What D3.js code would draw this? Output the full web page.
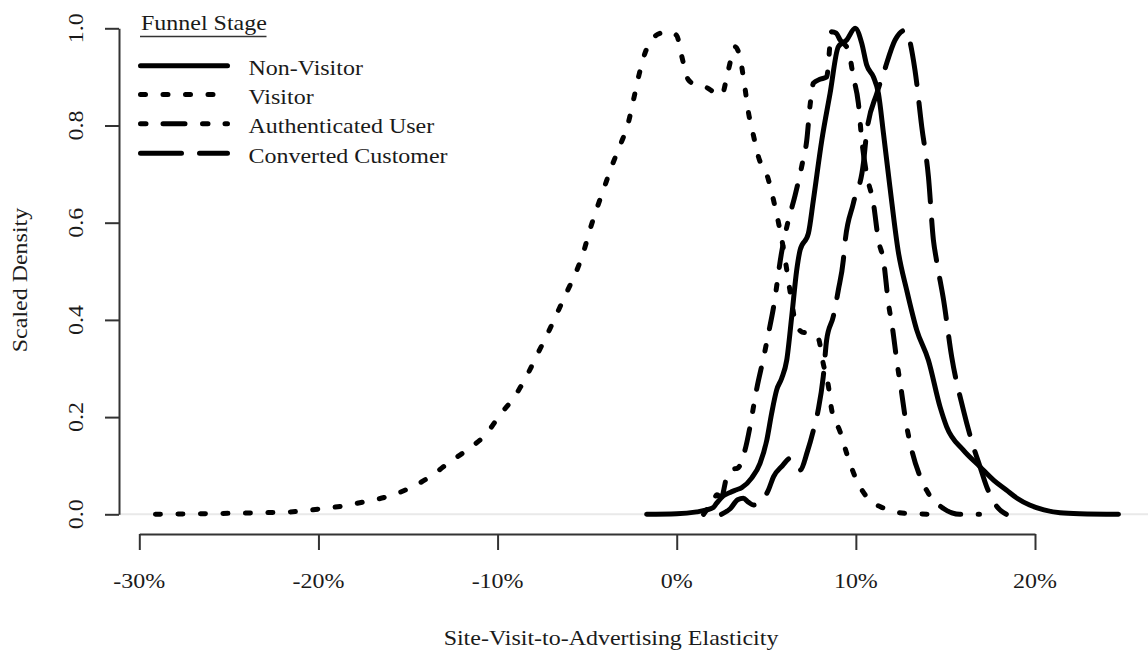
<!DOCTYPE html>
<html>
<head>
<meta charset="utf-8">
<script src="https://cdn.jsdelivr.net/npm/d3@7"></script>
<style>
  html, body { margin: 0; padding: 0; background: #ffffff; }
  svg { display: block; }
  text { font-family: "Liberation Serif", "Times New Roman", serif; fill: #1a1a1a; }
</style>
</head>
<body>
<svg id="chart" width="1148" height="651"></svg>
<script>
// ---------------- data ----------------
const seriesNames = ["Non-Visitor", "Visitor", "Authenticated User", "Converted Customer"];
const legendTitle = "Funnel Stage";
const xTicks = [-30, -20, -10, 0, 10, 20];
const yTicks = [0, 0.2, 0.4, 0.6, 0.8, 1.0];
const xTitle = "Site-Visit-to-Advertising Elasticity";
const yTitle = "Scaled Density";

const nonVisitorX = [-1.68, 0, 1.12, 1.67, 2.04, 2.23, 2.6, 2.98, 3.3, 3.63, 4.19, 4.65, 5.03, 5.3, 5.58, 5.86, 6.14, 6.42, 6.7, 6.89, 7.35, 7.63, 8.1, 8.56, 9.02, 9.49, 9.96, 10.33, 10.6, 10.98, 11.26, 11.54, 11.9, 12.37, 12.84, 13.4, 14.05, 14.7, 15.07, 16.0, 16.93, 17.7, 18.4, 19.0, 19.7, 20.5, 21.4, 22.5, 24.66];
const nonVisitorY = [0, 0.001, 0.005, 0.009, 0.014, 0.023, 0.038, 0.045, 0.05, 0.055, 0.075, 0.105, 0.153, 0.208, 0.256, 0.28, 0.317, 0.407, 0.503, 0.544, 0.578, 0.647, 0.77, 0.866, 0.962, 0.976, 1.0, 0.969, 0.925, 0.9, 0.866, 0.784, 0.674, 0.54, 0.461, 0.379, 0.317, 0.221, 0.18, 0.132, 0.098, 0.07, 0.05, 0.033, 0.019, 0.009, 0.003, 0.001, 0];

const visitorX = [-29.1, -27, -25, -23.4, -21.1, -19.95, -18.66, -17.4, -16.1, -14.9, -13.7, -12.7, -11.6, -10.6, -9.9, -9.0, -8.3, -7.7, -7.1, -6.6, -6.1, -5.6, -5.2, -4.85, -4.45, -4.05, -3.65, -3.15, -2.7, -2.4, -2.1, -1.76, -1.34, -0.9, -0.4, 0.0, 0.27, 0.65, 1.0, 1.67, 2.2, 2.5, 2.88, 3.26, 3.5, 3.81, 4.0, 4.28, 4.56, 5.1, 5.4, 5.67, 5.95, 6.33, 6.6, 7.0, 7.5, 7.9, 8.18, 8.47, 8.65, 9.12, 9.49, 9.96, 10.6, 11.6, 12.8, 14.4];
const visitorY = [0, 0.001, 0.002, 0.003, 0.006, 0.011, 0.017, 0.026, 0.037, 0.054, 0.079, 0.107, 0.135, 0.167, 0.203, 0.245, 0.29, 0.335, 0.38, 0.42, 0.46, 0.5, 0.54, 0.585, 0.63, 0.672, 0.714, 0.76, 0.806, 0.855, 0.905, 0.95, 0.979, 0.99, 0.993, 0.985, 0.944, 0.894, 0.885, 0.878, 0.866, 0.862, 0.914, 0.962, 0.945, 0.877, 0.828, 0.78, 0.736, 0.691, 0.647, 0.602, 0.548, 0.458, 0.4, 0.375, 0.372, 0.362, 0.31, 0.263, 0.215, 0.17, 0.125, 0.077, 0.036, 0.012, 0.002, 0];

const authX = [1.5, 1.67, 2.0, 2.23, 2.5, 2.79, 3.14, 3.4, 3.81, 4.09, 4.28, 4.47, 4.84, 5.12, 5.4, 5.86, 6.2, 6.6, 7.0, 7.26, 7.44, 7.63, 8.0, 8.37, 8.65, 8.9, 9.12, 9.58, 9.86, 10.14, 10.33, 10.6, 10.98, 11.26, 11.54, 11.82, 12.06, 12.28, 12.56, 12.75, 13.12, 13.59, 14.05, 14.89, 15.8, 16.9];
const authY = [0, 0.009, 0.02, 0.04, 0.036, 0.077, 0.093, 0.095, 0.132, 0.18, 0.22, 0.259, 0.321, 0.372, 0.425, 0.54, 0.6, 0.655, 0.72, 0.77, 0.84, 0.887, 0.895, 0.9, 0.993, 0.99, 0.976, 0.955, 0.9, 0.846, 0.77, 0.7, 0.64, 0.564, 0.523, 0.434, 0.379, 0.317, 0.249, 0.2, 0.132, 0.077, 0.043, 0.012, 0, 0];

const convX = [2.5, 3.0, 3.4, 3.72, 4.0, 4.28, 4.56, 5.12, 5.4, 5.9, 6.33, 6.6, 6.89, 7.3, 7.63, 7.9, 8.18, 8.37, 8.74, 9.02, 9.3, 9.39, 9.86, 10.42, 10.6, 11.17, 11.54, 12.19, 12.75, 13.3, 13.68, 14.05, 14.33, 14.5, 14.9, 15.35, 16.0, 16.56, 16.93, 17.3, 17.87, 18.4];
const convY = [0, 0.012, 0.03, 0.033, 0.025, 0.019, 0.023, 0.05, 0.077, 0.1, 0.115, 0.1, 0.091, 0.13, 0.173, 0.215, 0.283, 0.359, 0.407, 0.461, 0.523, 0.558, 0.64, 0.722, 0.784, 0.866, 0.907, 0.976, 0.996, 0.914, 0.797, 0.695, 0.564, 0.523, 0.44, 0.324, 0.215, 0.139, 0.098, 0.057, 0.016, 0];

// ---------------- drawing ----------------
const svg = d3.select("#chart");
const FS = 22, SX = 1.09;   // font size and horizontal stretch of the original raster

const x = d3.scaleLinear().domain([-30, 20]).range([139.3, 1035]);
const y = d3.scaleLinear().domain([0, 1]).range([514.3, 28.3]);

const styles = [
  { dash: null },                    // solid
  { dash: "5,17.5" },                // dotted
  { dash: "5.5,17,22,17.5" },        // dot-dash
  { dash: "41,18" }                  // long dash
];
const series = [
  { name: seriesNames[0], xs: nonVisitorX, ys: nonVisitorY },
  { name: seriesNames[1], xs: visitorX, ys: visitorY },
  { name: seriesNames[2], xs: authX, ys: authY },
  { name: seriesNames[3], xs: convX, ys: convY }
];

function stretchedText(g, tx, ty, str, anchor, rot) {
  return g.append("text")
    .attr("transform", `translate(${tx},${ty})` + (rot ? ` rotate(${rot})` : "") + ` scale(${SX},1)`)
    .attr("text-anchor", anchor || "start")
    .attr("font-size", FS)
    .text(str);
}

// light reference line at zero
svg.append("line")
  .attr("x1", 119).attr("x2", 1148)
  .attr("y1", y(0)).attr("y2", y(0))
  .attr("stroke", "#e9e9e9").attr("stroke-width", 2);

// x axis
const xAxis = d3.axisBottom(x).tickValues(xTicks).tickSizeInner(16).tickSizeOuter(0).tickFormat("");
const gx = svg.append("g").attr("transform", "translate(0,534)").call(xAxis);
gx.select(".domain").attr("stroke", "#333").attr("stroke-width", 2);
gx.selectAll(".tick line").attr("stroke", "#333").attr("stroke-width", 2);
xTicks.forEach(t => stretchedText(svg, x(t), 588, t + "%", "middle"));

// y axis
const yAxis = d3.axisLeft(y).tickValues(yTicks).tickSizeInner(14).tickSizeOuter(0).tickFormat("");
const gy = svg.append("g").attr("transform", "translate(119,0)").call(yAxis);
gy.select(".domain").attr("stroke", "#333").attr("stroke-width", 2);
gy.selectAll(".tick line").attr("stroke", "#333").attr("stroke-width", 2);
yTicks.forEach(t => stretchedText(svg, 83, y(t), d3.format(".1f")(t), "middle", -90));

// axis titles
stretchedText(svg, 611, 645, xTitle, "middle");
stretchedText(svg, 27, 280, yTitle, "middle", -90);

// curves
const line = d3.line().x(d => x(d[0])).y(d => y(d[1])).curve(d3.curveMonotoneX);
series.forEach((s, i) => {
  const pts = s.xs.map((v, k) => [v, s.ys[k]]);
  svg.append("path")
    .datum(pts)
    .attr("d", line)
    .attr("fill", "none")
    .attr("stroke", "#000")
    .attr("stroke-width", 5)
    .attr("stroke-linecap", "round")
    .attr("stroke-linejoin", "round")
    .attr("stroke-dasharray", styles[i].dash);
});

// legend
const lg = svg.append("g");
stretchedText(lg, 141, 29.5, legendTitle, "start");
lg.append("line").attr("x1", 140).attr("x2", 266.5).attr("y1", 36.5).attr("y2", 36.5)
  .attr("stroke", "#333").attr("stroke-width", 1.6);
const rowY = [65.7, 94.5, 123.8, 153.2];
series.forEach((s, i) => {
  lg.append("line")
    .attr("x1", 140.5).attr("x2", 227.5)
    .attr("y1", rowY[i]).attr("y2", rowY[i])
    .attr("stroke", "#000").attr("stroke-width", 5)
    .attr("stroke-linecap", "round")
    .attr("stroke-dasharray", styles[i].dash);
  stretchedText(lg, 248.5, rowY[i] + 9.3, s.name, "start");
});
</script>
</body>
</html>
